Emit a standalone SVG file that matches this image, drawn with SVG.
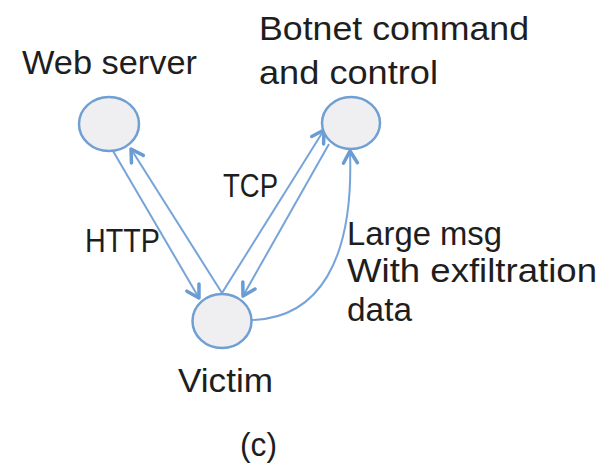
<svg xmlns="http://www.w3.org/2000/svg" width="606" height="466" viewBox="0 0 606 466">
<defs>
<style>
.node{fill:#efeff1;stroke:#6f9fd3;stroke-width:2.5}
.edge{fill:none;stroke:#76a4d8;stroke-width:2;marker-end:url(#arr)}
text{font-family:"Liberation Sans",Arial,sans-serif;font-size:33px;fill:#1e1e1e}
</style>
<marker id="arr" markerUnits="userSpaceOnUse" markerWidth="20" markerHeight="20" refX="0" refY="0" viewBox="-14 -10 16 20" orient="auto">
<path d="M-12,-7 L0,0 L-12,7" fill="none" stroke="#6a9bd2" stroke-width="3.5" stroke-linecap="round" stroke-linejoin="round"/>
</marker>
</defs>
<rect width="606" height="466" fill="#ffffff"/>
<g id="connectors">
<line class="edge" x1="113" y1="151" x2="199" y2="298"/>
<line class="edge" x1="222" y1="293" x2="131" y2="149"/>
<line class="edge" x1="222" y1="293" x2="324" y2="130"/>
<line class="edge" x1="329" y1="144" x2="243" y2="296"/>
<path class="edge" d="M252,320 C318,318 354,262 350,151"/>
</g>
<g id="web-server">
<ellipse class="node" cx="109" cy="124" rx="30" ry="27"/>
<text x="22" y="74" textLength="175" lengthAdjust="spacingAndGlyphs">Web server</text>
</g>
<g id="botnet-cc">
<ellipse class="node" cx="351" cy="123" rx="29" ry="26"/>
<text x="259" y="40" textLength="270" lengthAdjust="spacingAndGlyphs">Botnet command</text>
<text x="259" y="84" textLength="179" lengthAdjust="spacingAndGlyphs">and control</text>
</g>
<g id="victim">
<ellipse class="node" cx="222" cy="321" rx="29.5" ry="27"/>
<text x="178" y="392" textLength="95" lengthAdjust="spacingAndGlyphs">Victim</text>
</g>
<g id="labels">
<text x="223" y="197" textLength="55" lengthAdjust="spacingAndGlyphs">TCP</text>
<text x="85" y="252" textLength="75" lengthAdjust="spacingAndGlyphs">HTTP</text>
<text x="347" y="245" textLength="155" lengthAdjust="spacingAndGlyphs">Large msg</text>
<text x="347" y="282" textLength="250" lengthAdjust="spacingAndGlyphs">With exfiltration</text>
<text x="347" y="321" textLength="65" lengthAdjust="spacingAndGlyphs">data</text>
<text x="240" y="456" textLength="37" lengthAdjust="spacingAndGlyphs">(c)</text>
</g>
</svg>
